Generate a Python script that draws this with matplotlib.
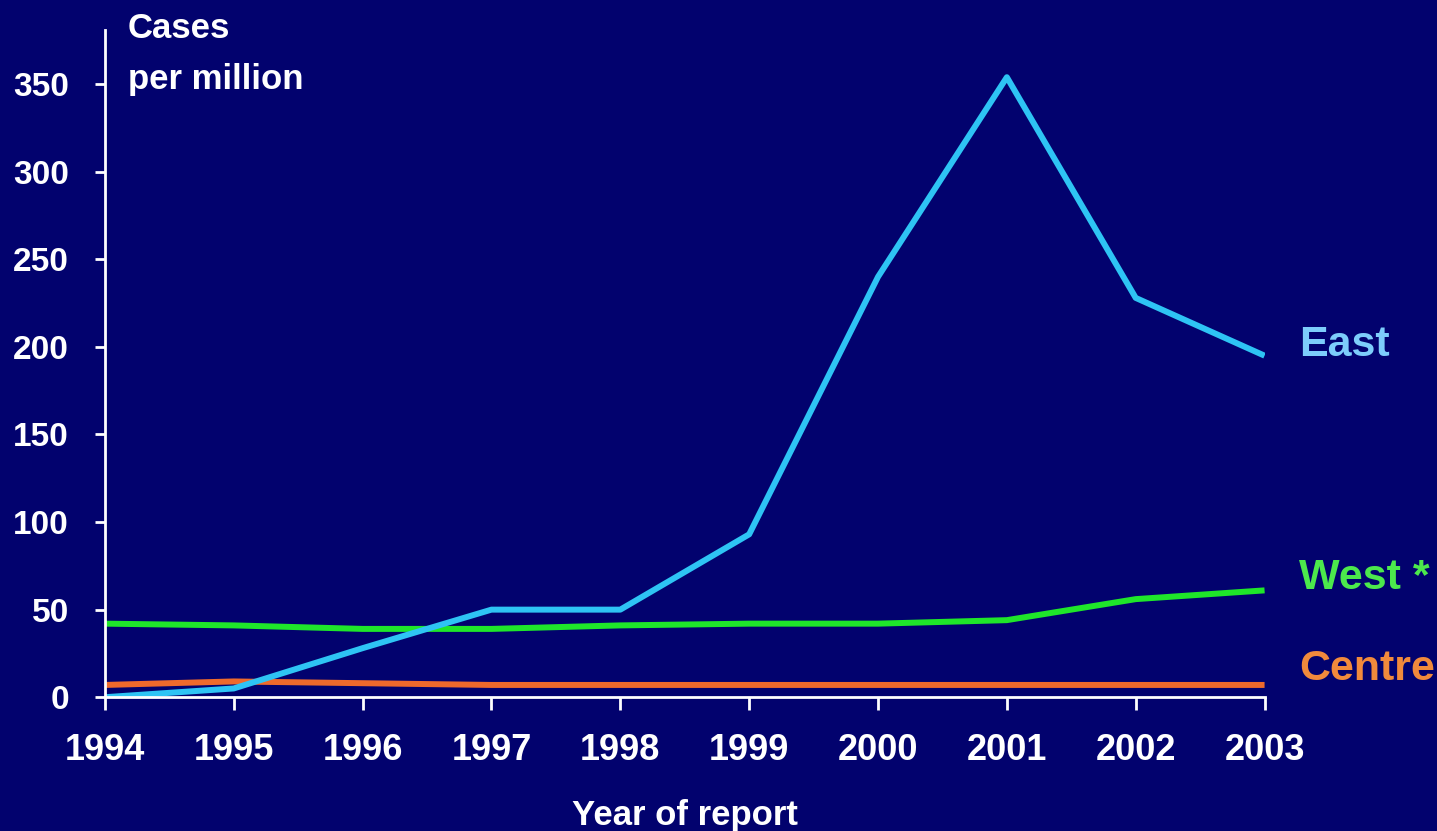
import matplotlib
matplotlib.use("Agg")
from matplotlib import pyplot as plt

years = [1994, 1995, 1996, 1997, 1998, 1999, 2000, 2001, 2002, 2003]
east = [0, 5, 28, 50, 50, 93, 240, 354, 228, 195]
west = [42, 41, 39, 39, 41, 42, 42, 44, 56, 61]
centre = [7, 9, 8, 7, 7, 7, 7, 7, 7, 7]
yticks = [0, 50, 100, 150, 200, 250, 300, 350]

bg = "#02026e"
plt.rcParams["font.family"] = ["Liberation Sans", "DejaVu Sans"]
plt.rcParams["font.weight"] = "bold"

fig = plt.figure(figsize=(14.37, 8.31), dpi=100, facecolor=bg)
ax = fig.add_axes([0.073, 0.161, 0.807, 0.803], facecolor=bg)

ax.plot(years, centre, color="#ee6a2c", lw=4.3, solid_capstyle="butt")
ax.plot(years, west, color="#1fe62a", lw=4.3, solid_capstyle="butt")
ax.plot(years, east, color="#2ec4f4", lw=4.3, solid_capstyle="butt")

ax.set_xlim(1994, 2003)
ax.set_ylim(0, 381)
ax.set_xticks(years)
ax.set_yticks(yticks)
for s in ["top", "right"]:
    ax.spines[s].set_visible(False)
for s in ["left", "bottom"]:
    ax.spines[s].set_color("white")
    ax.spines[s].set_linewidth(2)
ax.tick_params(axis="x", colors="white", length=9, width=2, labelsize=26, pad=17)
ax.tick_params(axis="y", colors="white", length=7, width=2, labelsize=24, pad=19)
for lab in ax.get_xticklabels() + ax.get_yticklabels():
    lab.set_fontweight("bold")

ax.set_xlabel("Year of report", color="white", fontsize=25, fontweight="bold", labelpad=22)
ax.text(1994.18, 376.5, "Cases", color="white", fontsize=25, fontweight="bold",
        va="baseline", ha="left", clip_on=False)
ax.text(1994.18, 347.5, "per million", color="white", fontsize=25, fontweight="bold",
        va="baseline", ha="left", clip_on=False)

ax.text(2003.27, 201, "East", color="#7dcdfb", fontsize=31, fontweight="bold",
        va="center", ha="left", clip_on=False)
ax.text(2003.27, 68, "West *", color="#4ce94c", fontsize=31, fontweight="bold",
        va="center", ha="left", clip_on=False)
ax.text(2003.27, 16, "Centre", color="#f18a3c", fontsize=31, fontweight="bold",
        va="center", ha="left", clip_on=False)

fig.savefig("out.png", dpi=100, facecolor=bg)
